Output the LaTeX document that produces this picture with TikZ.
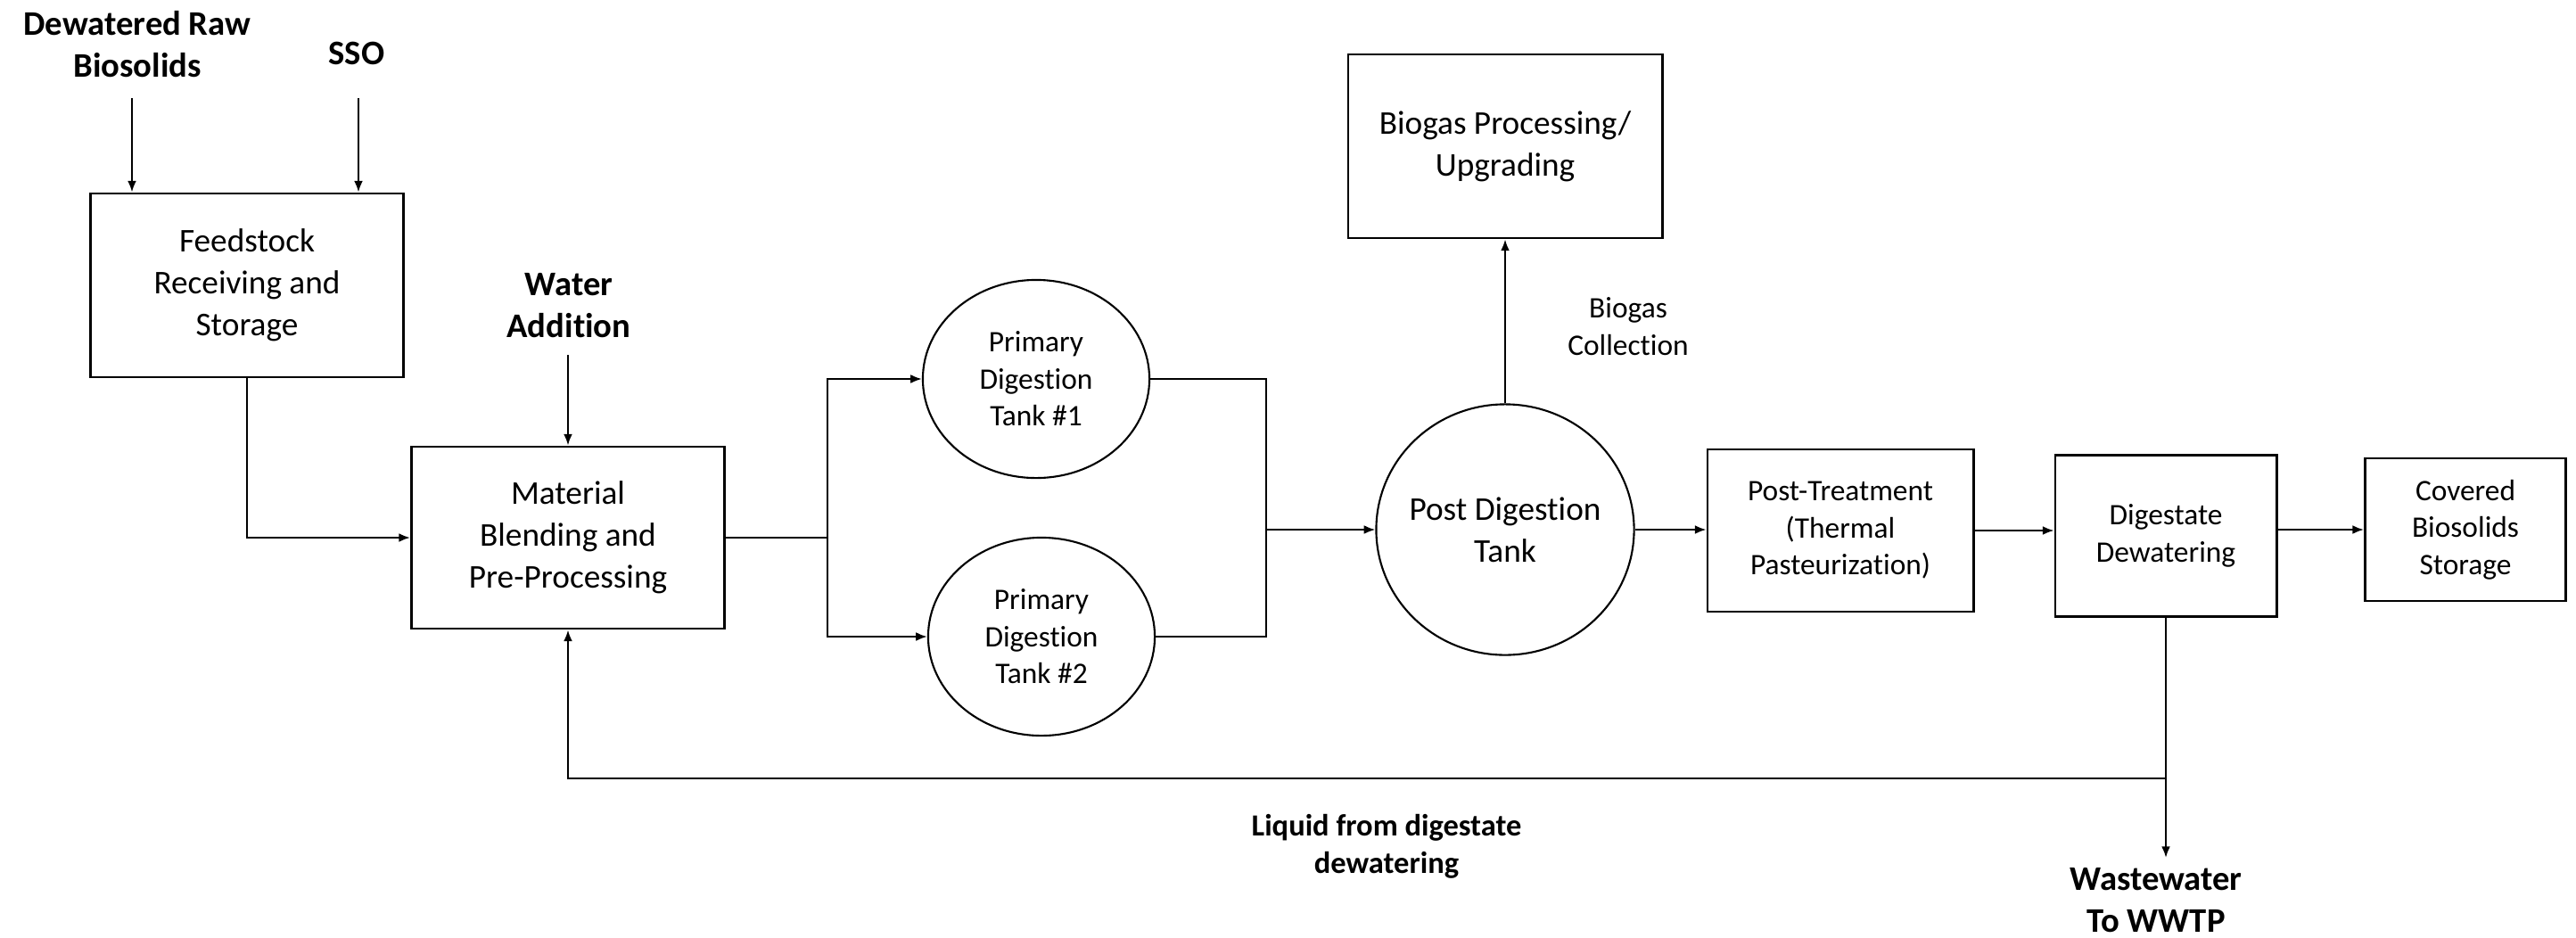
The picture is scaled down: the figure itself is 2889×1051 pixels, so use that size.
\documentclass[tikz,border=0pt]{standalone}
\usepackage{fontspec}
\setmainfont[Ligatures=NoCommon]{Carlito}
\usetikzlibrary{arrows.meta,shapes.geometric}

\tikzset{
  unit/.style={draw,line width=0.8pt,inner sep=0pt,align=center,font=\fontsize{10.6}{13.3}\selectfont},
  unitsm/.style={unit,font=\fontsize{9.5}{11.8}\selectfont},
  tank/.style={draw,ellipse,line width=0.6pt,inner sep=0pt,align=center,font=\fontsize{9.5}{11.8}\selectfont},
  lbl/.style={align=center,font=\bfseries\fontsize{11}{13.4}\selectfont},
  note/.style={align=center,font=\fontsize{9.5}{11.8}\selectfont},
  pipe/.style={line width=0.6pt},
  flow/.style={pipe,-{Latex[length=3.6pt,width=2.8pt]}}
}

\begin{document}
\begin{tikzpicture}[x=0.01cm,y=-0.01cm]
\useasboundingbox (0,0) rectangle (2889,1051);

% FEEDSTOCK
\node[lbl] (raw) at (154,50) {Dewatered Raw\\Biosolids};
\node[lbl] (sso) at (400,60) {SSO};
\node[unit,minimum width=3.51cm,minimum height=2.06cm] (feed) at (277,320) {Feedstock\\Receiving and\\Storage};
\coordinate (rawin) at (148,110);
\coordinate (ssoin) at (402,110);
\draw[flow] (rawin) -- (rawin |- feed.north);
\draw[flow] (ssoin) -- (ssoin |- feed.north);

% BLENDING
\node[lbl] (water) at (638,343) {Water\\Addition};
\coordinate (waterin) at (637,398);
\node[unit,minimum width=3.51cm,minimum height=2.04cm] (blend) at (637,603) {Material\\Blending and\\Pre-Processing};
\draw[flow] (waterin) -- (blend.north);
\draw[flow] (feed.south) |- (blend.west);

% PRIMARY DIGESTION
\node[tank,minimum width=2.54cm,minimum height=2.22cm] (pd1) at (1162,425) {Primary\\Digestion\\Tank \#1};
\node[tank,minimum width=2.54cm,minimum height=2.22cm] (pd2) at (1168,714) {Primary\\Digestion\\Tank \#2};
\coordinate (split) at (928,603);
\draw[pipe] (blend.east) -- (split);
\draw[flow] (split) |- (pd1.west);
\draw[flow] (split) |- (pd2.west);

% POST DIGESTION
\node[tank,font=\fontsize{10.6}{13.3}\selectfont,inner xsep=-3mm,minimum width=2.89cm,minimum height=2.81cm] (post) at (1688,594) {Post Digestion\\Tank};
\coordinate (merge) at (1420,594);
\draw[pipe] (pd1.east) -| (merge) |- (pd2.east);
\draw[flow] (merge) -- (post.west);

% BIOGAS
\node[unit,minimum width=3.52cm,minimum height=2.06cm] (gas) at (1688,164) {Biogas Processing/\\Upgrading};
\node[note] (col) at (1826,366) {Biogas\\Collection};
\draw[flow] (post.north) -- (gas.south);

% POST TREATMENT AND DEWATERING
\node[unitsm,minimum width=2.98cm,minimum height=1.82cm] (treat) at (2064,595) {Post-Treatment\\(Thermal\\Pasteurization)};
\node[unitsm,minimum width=2.48cm,minimum height=1.81cm] (dewat) at (2429,601) {Digestate\\Dewatering};
\node[unitsm,minimum width=2.25cm,minimum height=1.60cm] (store) at (2765,594) {Covered\\Biosolids\\Storage};
\draw[flow] (post.east) -- (post.east -| treat.west);
\draw[flow] (treat.east) -- (treat.east -| dewat.west);
\draw[flow] (store.west -| dewat.east) -- (store.west);

% LIQUID RETURN
\coordinate (tee) at (2429,873);
\coordinate (wwout) at (2429,962);
\draw[pipe] (dewat.south) -- (tee);
\draw[flow] (tee) -- (wwout);
\draw[flow] (tee) -| (blend.south);
\node[lbl] (ww) at (2418,1010) {Wastewater\\To WWTP};
\node[lbl,font=\bfseries\fontsize{9.8}{12}\selectfont] (liq) at (1555,949) {Liquid from digestate\\dewatering};
\end{tikzpicture}
\end{document}
